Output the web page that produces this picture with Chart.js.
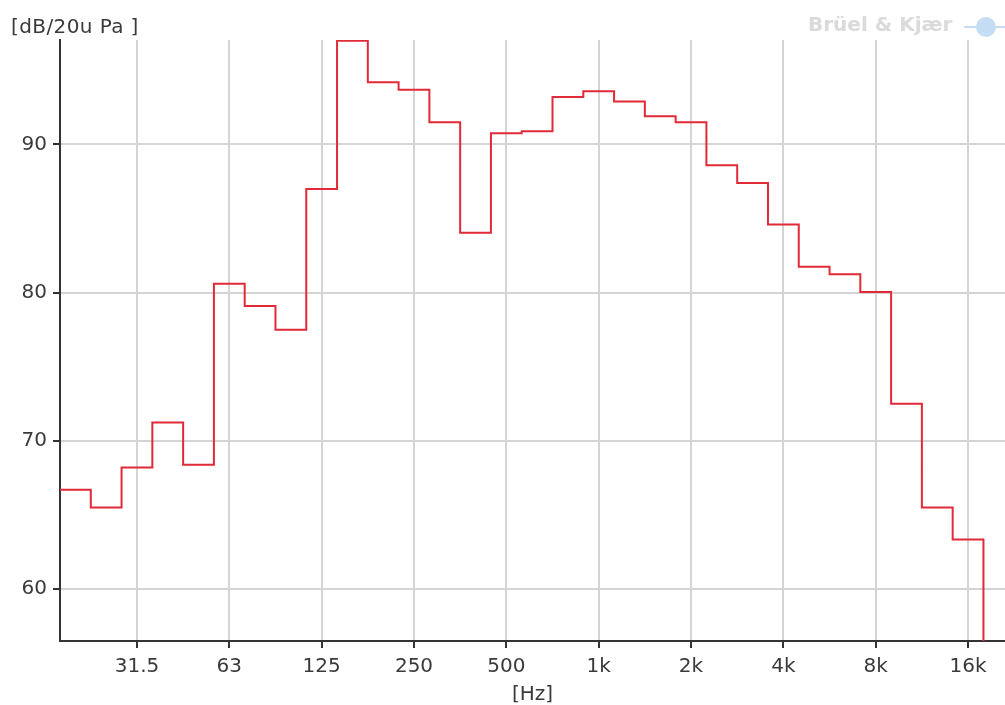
<!DOCTYPE html>
<html>
<head>
<meta charset="utf-8">
<script src="https://cdn.jsdelivr.net/npm/chart.js@4/dist/chart.umd.min.js"></script>
<style>
  html, body { margin: 0; padding: 0; background: #fff; }
  #wrap { position: relative; width: 1005px; height: 705px; overflow: hidden; }
  canvas { position: absolute; left: 0; top: 0; }
  .ylab { position: absolute; left: 11px; top: 14px; font: 20px "DejaVu Sans", sans-serif; color: #3a3a3a; white-space: pre; letter-spacing: 0.4px; }
  .logo { position: absolute; left: 808px; top: 12px; font: bold 20px "DejaVu Sans", sans-serif; color: #dadada; white-space: pre; }
  .globe { position: absolute; left: 976px; top: 17px; width: 20px; height: 20px; border-radius: 50%; background: #c4dcf4; }
  .gline { position: absolute; left: 964px; top: 26px; width: 41px; height: 2px; background: #c4dcf4; }
</style>
</head>
<body>
<div id="wrap">
  <canvas id="c" width="1005" height="705"></canvas>
  <div class="ylab">[dB/20u Pa ]</div>
  <div class="logo">Brüel &amp; Kjær</div>
  <div class="gline"></div>
  <div class="globe"></div>
</div>
<script>
// 1/3-octave band centre labels
const bands = ['20','25','31.5','40','50','63','80','100','125','160','200','250','315','400','500','630','800','1k','1.25k','1.6k','2k','2.5k','3.15k','4k','5k','6.3k','8k','10k','12.5k','16k','20k'];
// band levels in dB re 20 uPa
const levels = [66.7, 65.5, 68.2, 71.25, 68.4, 80.6, 79.1, 77.5, 87.0, 97.0, 94.2, 93.7, 91.5, 84.05, 90.75, 90.9, 93.2, 93.6, 92.9, 91.9, 91.5, 88.6, 87.4, 84.6, 81.75, 81.25, 80.05, 72.5, 65.5, 63.35, 52.0];
// labelled x ticks
const tickLabels = ['31.5','63','125','250','500','1k','2k','4k','8k','16k'];
// y ticks
const yTicks = [60, 70, 80, 90];

// each band spans [i-0.5, i+0.5]; step line holds value across the band
const pts = bands.map((b, i) => ({ x: i - 0.5, y: levels[i] }));
pts.push({ x: bands.length - 0.5, y: levels[levels.length - 1] });

const tickIdx = tickLabels.map(l => bands.indexOf(l));
const FONT = { family: '"DejaVu Sans", sans-serif', size: 20 };
const TXT = '#3a3a3a';

new Chart(document.getElementById('c'), {
  type: 'line',
  data: {
    datasets: [{
      data: pts,
      stepped: 'before',
      borderColor: '#e02a38',
      borderWidth: 2,
      pointRadius: 0,
      fill: false
    }]
  },
  options: {
    responsive: false,
    animation: false,
    events: [],
    layout: { padding: { top: 40, left: 0, right: 0, bottom: 0 } },
    plugins: { legend: { display: false }, tooltip: { enabled: false } },
    scales: {
      x: {
        type: 'linear',
        min: -0.5,
        max: 30.2,
        afterBuildTicks: s => { s.ticks = tickIdx.map(v => ({ value: v })); },
        afterFit: s => { s.height = 64; },
        ticks: {
          autoSkip: false, maxRotation: 0, padding: 7,
          color: TXT, font: FONT,
          callback: v => bands[v]
        },
        grid: { color: '#d4d4d4', lineWidth: 2, tickColor: '#333', tickWidth: 2, tickLength: 7 },
        border: { color: '#333', width: 2 },
        title: { display: true, text: '[Hz]', color: TXT, font: FONT, padding: { top: 0, bottom: -2 } }
      },
      y: {
        type: 'linear',
        min: 56.5,
        max: 97.05,
        afterBuildTicks: s => { s.ticks = yTicks.map(v => ({ value: v })); },
        afterFit: s => { s.width = 60; },
        ticks: { padding: 6, color: TXT, font: FONT },
        grid: { color: '#d4d4d4', lineWidth: 2, tickColor: '#333', tickWidth: 2, tickLength: 7 },
        border: { color: '#333', width: 2 }
      }
    }
  }
});
</script>
</body>
</html>
